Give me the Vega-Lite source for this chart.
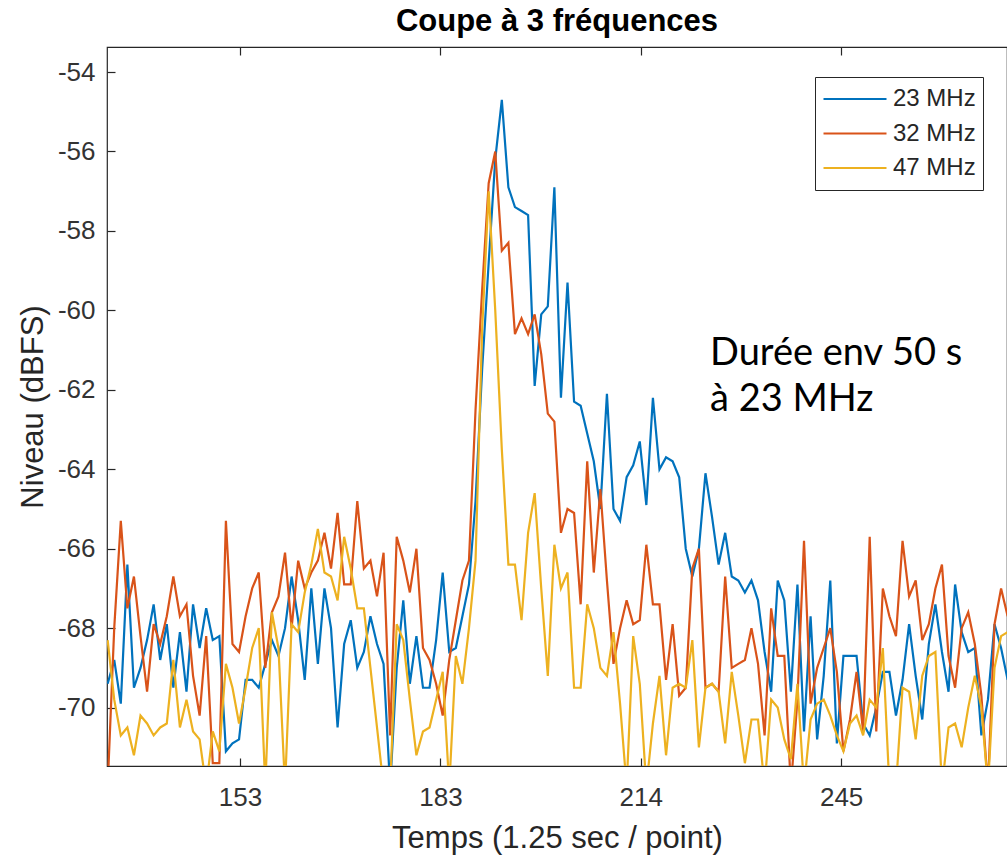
{
"$schema": "https://vega.github.io/schema/vega-lite/v6.json",
"width": 900, "height": 719,
"autosize": {"type": "none"},
"padding": {"left": 107, "top": 47, "right": 0, "bottom": 91},
"background": "white",
"title": {"text": "Coupe à 3 fréquences", "font": "Liberation Sans", "fontSize": 31, "fontWeight": "bold", "color": "#000000", "anchor": "middle", "offset": 8},
"config": {"view": {"stroke": "#262626", "strokeWidth": 1.2},
  "axis": {"grid": false, "domain": false, "labelFont": "Liberation Sans", "labelFontSize": 26, "labelColor": "#333333", "titleFont": "Liberation Sans", "titleFontSize": 31, "titleFontWeight": "normal", "titleColor": "#262626", "tickColor": "#262626", "tickSize": -8, "tickWidth": 1.2}},
"resolve": {"axis": {"x": "independent"}},
"layer": [
{
"data": {"values": [
{"t":133,"s":"23 MHz","v":-69.4},{"t":134,"s":"23 MHz","v":-68.8},{"t":135,"s":"23 MHz","v":-69.9},{"t":136,"s":"23 MHz","v":-66.4},{"t":137,"s":"23 MHz","v":-69.5},{"t":138,"s":"23 MHz","v":-69.0},{"t":139,"s":"23 MHz","v":-68.3},{"t":140,"s":"23 MHz","v":-67.4},{"t":141,"s":"23 MHz","v":-68.8},{"t":142,"s":"23 MHz","v":-67.9},
{"t":143,"s":"23 MHz","v":-69.5},{"t":144,"s":"23 MHz","v":-68.1},{"t":145,"s":"23 MHz","v":-69.6},{"t":146,"s":"23 MHz","v":-67.4},{"t":147,"s":"23 MHz","v":-68.5},{"t":148,"s":"23 MHz","v":-67.5},{"t":149,"s":"23 MHz","v":-68.3},{"t":150,"s":"23 MHz","v":-68.2},{"t":151,"s":"23 MHz","v":-71.1},{"t":152,"s":"23 MHz","v":-70.9},
{"t":153,"s":"23 MHz","v":-70.8},{"t":154,"s":"23 MHz","v":-69.3},{"t":155,"s":"23 MHz","v":-69.3},{"t":156,"s":"23 MHz","v":-69.5},{"t":157,"s":"23 MHz","v":-68.9},{"t":158,"s":"23 MHz","v":-68.3},{"t":159,"s":"23 MHz","v":-68.7},{"t":160,"s":"23 MHz","v":-68.0},{"t":161,"s":"23 MHz","v":-66.7},{"t":162,"s":"23 MHz","v":-67.8},
{"t":163,"s":"23 MHz","v":-69.3},{"t":164,"s":"23 MHz","v":-67.0},{"t":165,"s":"23 MHz","v":-68.9},{"t":166,"s":"23 MHz","v":-67.0},{"t":167,"s":"23 MHz","v":-68.0},{"t":168,"s":"23 MHz","v":-70.5},{"t":169,"s":"23 MHz","v":-68.4},{"t":170,"s":"23 MHz","v":-67.8},{"t":171,"s":"23 MHz","v":-69.0},{"t":172,"s":"23 MHz","v":-68.6},
{"t":173,"s":"23 MHz","v":-67.7},{"t":174,"s":"23 MHz","v":-68.4},{"t":175,"s":"23 MHz","v":-68.9},{"t":176,"s":"23 MHz","v":-72.0},{"t":177,"s":"23 MHz","v":-69.0},{"t":178,"s":"23 MHz","v":-67.3},{"t":179,"s":"23 MHz","v":-69.4},{"t":180,"s":"23 MHz","v":-68.2},{"t":181,"s":"23 MHz","v":-69.5},{"t":182,"s":"23 MHz","v":-69.5},
{"t":183,"s":"23 MHz","v":-68.3},{"t":184,"s":"23 MHz","v":-66.6},{"t":185,"s":"23 MHz","v":-68.6},{"t":186,"s":"23 MHz","v":-68.5},{"t":187,"s":"23 MHz","v":-67.7},{"t":188,"s":"23 MHz","v":-66.9},{"t":189,"s":"23 MHz","v":-64.8},{"t":190,"s":"23 MHz","v":-61.5},{"t":191,"s":"23 MHz","v":-58.8},{"t":192,"s":"23 MHz","v":-56.2},
{"t":193,"s":"23 MHz","v":-54.7},{"t":194,"s":"23 MHz","v":-56.9},{"t":195,"s":"23 MHz","v":-57.4},{"t":196,"s":"23 MHz","v":-57.5},{"t":197,"s":"23 MHz","v":-57.6},{"t":198,"s":"23 MHz","v":-61.9},{"t":199,"s":"23 MHz","v":-60.1},{"t":200,"s":"23 MHz","v":-59.9},{"t":201,"s":"23 MHz","v":-56.9},{"t":202,"s":"23 MHz","v":-62.2},
{"t":203,"s":"23 MHz","v":-59.3},{"t":204,"s":"23 MHz","v":-62.3},{"t":205,"s":"23 MHz","v":-62.4},{"t":206,"s":"23 MHz","v":-63.1},{"t":207,"s":"23 MHz","v":-63.8},{"t":208,"s":"23 MHz","v":-65.0},{"t":209,"s":"23 MHz","v":-62.1},{"t":210,"s":"23 MHz","v":-65.0},{"t":211,"s":"23 MHz","v":-65.3},{"t":212,"s":"23 MHz","v":-64.2},
{"t":213,"s":"23 MHz","v":-63.9},{"t":214,"s":"23 MHz","v":-63.3},{"t":215,"s":"23 MHz","v":-64.9},{"t":216,"s":"23 MHz","v":-62.2},{"t":217,"s":"23 MHz","v":-64.0},{"t":218,"s":"23 MHz","v":-63.7},{"t":219,"s":"23 MHz","v":-63.8},{"t":220,"s":"23 MHz","v":-64.2},{"t":221,"s":"23 MHz","v":-66.0},{"t":222,"s":"23 MHz","v":-66.7},
{"t":223,"s":"23 MHz","v":-66.0},{"t":224,"s":"23 MHz","v":-64.1},{"t":225,"s":"23 MHz","v":-65.2},{"t":226,"s":"23 MHz","v":-66.4},{"t":227,"s":"23 MHz","v":-65.6},{"t":228,"s":"23 MHz","v":-66.7},{"t":229,"s":"23 MHz","v":-66.8},{"t":230,"s":"23 MHz","v":-67.1},{"t":231,"s":"23 MHz","v":-66.8},{"t":232,"s":"23 MHz","v":-67.3},
{"t":233,"s":"23 MHz","v":-68.6},{"t":234,"s":"23 MHz","v":-69.6},{"t":235,"s":"23 MHz","v":-66.8},{"t":236,"s":"23 MHz","v":-67.3},{"t":237,"s":"23 MHz","v":-69.6},{"t":238,"s":"23 MHz","v":-66.9},{"t":239,"s":"23 MHz","v":-70.6},{"t":240,"s":"23 MHz","v":-67.7},{"t":241,"s":"23 MHz","v":-70.8},{"t":242,"s":"23 MHz","v":-69.2},
{"t":243,"s":"23 MHz","v":-66.8},{"t":244,"s":"23 MHz","v":-70.9},{"t":245,"s":"23 MHz","v":-68.7},{"t":246,"s":"23 MHz","v":-68.7},{"t":247,"s":"23 MHz","v":-68.7},{"t":248,"s":"23 MHz","v":-70.4},{"t":249,"s":"23 MHz","v":-70.7},{"t":250,"s":"23 MHz","v":-70.0},{"t":251,"s":"23 MHz","v":-69.1},{"t":252,"s":"23 MHz","v":-69.1},
{"t":253,"s":"23 MHz","v":-70.2},{"t":254,"s":"23 MHz","v":-69.3},{"t":255,"s":"23 MHz","v":-67.9},{"t":256,"s":"23 MHz","v":-69.2},{"t":257,"s":"23 MHz","v":-70.3},{"t":258,"s":"23 MHz","v":-68.4},{"t":259,"s":"23 MHz","v":-67.4},{"t":260,"s":"23 MHz","v":-68.6},{"t":261,"s":"23 MHz","v":-69.6},{"t":262,"s":"23 MHz","v":-66.9},
{"t":263,"s":"23 MHz","v":-68.1},{"t":264,"s":"23 MHz","v":-68.6},{"t":265,"s":"23 MHz","v":-68.5},{"t":266,"s":"23 MHz","v":-70.7},{"t":267,"s":"23 MHz","v":-69.8},{"t":268,"s":"23 MHz","v":-67.9},{"t":269,"s":"23 MHz","v":-68.5},{"t":270,"s":"23 MHz","v":-69.3},
{"t":133,"s":"32 MHz","v":-72.0},{"t":134,"s":"32 MHz","v":-68.0},{"t":135,"s":"32 MHz","v":-65.3},{"t":136,"s":"32 MHz","v":-67.5},{"t":137,"s":"32 MHz","v":-66.7},{"t":138,"s":"32 MHz","v":-68.2},{"t":139,"s":"32 MHz","v":-69.6},{"t":140,"s":"32 MHz","v":-67.9},{"t":141,"s":"32 MHz","v":-68.4},{"t":142,"s":"32 MHz","v":-67.7},
{"t":143,"s":"32 MHz","v":-66.7},{"t":144,"s":"32 MHz","v":-67.7},{"t":145,"s":"32 MHz","v":-67.4},{"t":146,"s":"32 MHz","v":-69.2},{"t":147,"s":"32 MHz","v":-70.2},{"t":148,"s":"32 MHz","v":-68.2},{"t":149,"s":"32 MHz","v":-71.4},{"t":150,"s":"32 MHz","v":-71.4},{"t":151,"s":"32 MHz","v":-65.3},{"t":152,"s":"32 MHz","v":-68.4},
{"t":153,"s":"32 MHz","v":-68.6},{"t":154,"s":"32 MHz","v":-67.7},{"t":155,"s":"32 MHz","v":-67.0},{"t":156,"s":"32 MHz","v":-66.6},{"t":157,"s":"32 MHz","v":-69.0},{"t":158,"s":"32 MHz","v":-67.6},{"t":159,"s":"32 MHz","v":-67.2},{"t":160,"s":"32 MHz","v":-66.1},{"t":161,"s":"32 MHz","v":-68.0},{"t":162,"s":"32 MHz","v":-66.3},
{"t":163,"s":"32 MHz","v":-67.0},{"t":164,"s":"32 MHz","v":-66.6},{"t":165,"s":"32 MHz","v":-66.3},{"t":166,"s":"32 MHz","v":-65.6},{"t":167,"s":"32 MHz","v":-66.5},{"t":168,"s":"32 MHz","v":-65.1},{"t":169,"s":"32 MHz","v":-66.9},{"t":170,"s":"32 MHz","v":-66.9},{"t":171,"s":"32 MHz","v":-64.8},{"t":172,"s":"32 MHz","v":-66.5},
{"t":173,"s":"32 MHz","v":-66.3},{"t":174,"s":"32 MHz","v":-67.2},{"t":175,"s":"32 MHz","v":-66.1},{"t":176,"s":"32 MHz","v":-70.7},{"t":177,"s":"32 MHz","v":-65.7},{"t":178,"s":"32 MHz","v":-66.3},{"t":179,"s":"32 MHz","v":-67.1},{"t":180,"s":"32 MHz","v":-66.0},{"t":181,"s":"32 MHz","v":-68.5},{"t":182,"s":"32 MHz","v":-68.8},
{"t":183,"s":"32 MHz","v":-69.4},{"t":184,"s":"32 MHz","v":-70.2},{"t":185,"s":"32 MHz","v":-68.8},{"t":186,"s":"32 MHz","v":-67.8},{"t":187,"s":"32 MHz","v":-66.8},{"t":188,"s":"32 MHz","v":-66.3},{"t":189,"s":"32 MHz","v":-62.5},{"t":190,"s":"32 MHz","v":-59.5},{"t":191,"s":"32 MHz","v":-56.8},{"t":192,"s":"32 MHz","v":-56.0},
{"t":193,"s":"32 MHz","v":-58.5},{"t":194,"s":"32 MHz","v":-58.3},{"t":195,"s":"32 MHz","v":-60.6},{"t":196,"s":"32 MHz","v":-60.2},{"t":197,"s":"32 MHz","v":-60.6},{"t":198,"s":"32 MHz","v":-60.1},{"t":199,"s":"32 MHz","v":-61.1},{"t":200,"s":"32 MHz","v":-62.6},{"t":201,"s":"32 MHz","v":-62.8},{"t":202,"s":"32 MHz","v":-65.6},
{"t":203,"s":"32 MHz","v":-65.0},{"t":204,"s":"32 MHz","v":-65.1},{"t":205,"s":"32 MHz","v":-67.4},{"t":206,"s":"32 MHz","v":-63.8},{"t":207,"s":"32 MHz","v":-66.6},{"t":208,"s":"32 MHz","v":-64.5},{"t":209,"s":"32 MHz","v":-66.8},{"t":210,"s":"32 MHz","v":-68.9},{"t":211,"s":"32 MHz","v":-68.0},{"t":212,"s":"32 MHz","v":-67.3},
{"t":213,"s":"32 MHz","v":-67.9},{"t":214,"s":"32 MHz","v":-67.8},{"t":215,"s":"32 MHz","v":-65.9},{"t":216,"s":"32 MHz","v":-67.4},{"t":217,"s":"32 MHz","v":-67.4},{"t":218,"s":"32 MHz","v":-69.3},{"t":219,"s":"32 MHz","v":-67.9},{"t":220,"s":"32 MHz","v":-69.7},{"t":221,"s":"32 MHz","v":-69.5},{"t":222,"s":"32 MHz","v":-66.5},
{"t":223,"s":"32 MHz","v":-66.0},{"t":224,"s":"32 MHz","v":-69.5},{"t":225,"s":"32 MHz","v":-69.4},{"t":226,"s":"32 MHz","v":-69.6},{"t":227,"s":"32 MHz","v":-66.7},{"t":228,"s":"32 MHz","v":-69.0},{"t":229,"s":"32 MHz","v":-68.9},{"t":230,"s":"32 MHz","v":-68.8},{"t":231,"s":"32 MHz","v":-68.0},{"t":232,"s":"32 MHz","v":-68.9},
{"t":233,"s":"32 MHz","v":-70.7},{"t":234,"s":"32 MHz","v":-67.5},{"t":235,"s":"32 MHz","v":-68.7},{"t":236,"s":"32 MHz","v":-68.7},{"t":237,"s":"32 MHz","v":-72.0},{"t":238,"s":"32 MHz","v":-69.8},{"t":239,"s":"32 MHz","v":-65.8},{"t":240,"s":"32 MHz","v":-69.9},{"t":241,"s":"32 MHz","v":-69.0},{"t":242,"s":"32 MHz","v":-68.5},
{"t":243,"s":"32 MHz","v":-68.0},{"t":244,"s":"32 MHz","v":-69.1},{"t":245,"s":"32 MHz","v":-71.1},{"t":246,"s":"32 MHz","v":-70.3},{"t":247,"s":"32 MHz","v":-69.1},{"t":248,"s":"32 MHz","v":-70.6},{"t":249,"s":"32 MHz","v":-65.7},{"t":250,"s":"32 MHz","v":-70.6},{"t":251,"s":"32 MHz","v":-67.0},{"t":252,"s":"32 MHz","v":-67.7},
{"t":253,"s":"32 MHz","v":-68.2},{"t":254,"s":"32 MHz","v":-65.8},{"t":255,"s":"32 MHz","v":-67.2},{"t":256,"s":"32 MHz","v":-66.8},{"t":257,"s":"32 MHz","v":-68.3},{"t":258,"s":"32 MHz","v":-67.9},{"t":259,"s":"32 MHz","v":-67.0},{"t":260,"s":"32 MHz","v":-66.4},{"t":261,"s":"32 MHz","v":-68.7},{"t":262,"s":"32 MHz","v":-69.5},
{"t":263,"s":"32 MHz","v":-68.0},{"t":264,"s":"32 MHz","v":-67.6},{"t":265,"s":"32 MHz","v":-68.4},{"t":266,"s":"32 MHz","v":-69.7},{"t":267,"s":"32 MHz","v":-72.0},{"t":268,"s":"32 MHz","v":-67.9},{"t":269,"s":"32 MHz","v":-67.0},{"t":270,"s":"32 MHz","v":-67.7},
{"t":133,"s":"47 MHz","v":-68.3},{"t":134,"s":"47 MHz","v":-69.8},{"t":135,"s":"47 MHz","v":-70.7},{"t":136,"s":"47 MHz","v":-70.5},{"t":137,"s":"47 MHz","v":-71.2},{"t":138,"s":"47 MHz","v":-70.2},{"t":139,"s":"47 MHz","v":-70.4},{"t":140,"s":"47 MHz","v":-70.7},{"t":141,"s":"47 MHz","v":-70.5},{"t":142,"s":"47 MHz","v":-70.4},
{"t":143,"s":"47 MHz","v":-68.8},{"t":144,"s":"47 MHz","v":-70.5},{"t":145,"s":"47 MHz","v":-69.8},{"t":146,"s":"47 MHz","v":-70.6},{"t":147,"s":"47 MHz","v":-70.8},{"t":148,"s":"47 MHz","v":-72.0},{"t":149,"s":"47 MHz","v":-70.6},{"t":150,"s":"47 MHz","v":-71.1},{"t":151,"s":"47 MHz","v":-68.9},{"t":152,"s":"47 MHz","v":-69.5},
{"t":153,"s":"47 MHz","v":-70.4},{"t":154,"s":"47 MHz","v":-69.5},{"t":155,"s":"47 MHz","v":-68.5},{"t":156,"s":"47 MHz","v":-68.0},{"t":157,"s":"47 MHz","v":-72.0},{"t":158,"s":"47 MHz","v":-67.6},{"t":159,"s":"47 MHz","v":-68.5},{"t":160,"s":"47 MHz","v":-72.0},{"t":161,"s":"47 MHz","v":-67.9},{"t":162,"s":"47 MHz","v":-68.1},
{"t":163,"s":"47 MHz","v":-67.1},{"t":164,"s":"47 MHz","v":-66.4},{"t":165,"s":"47 MHz","v":-65.5},{"t":166,"s":"47 MHz","v":-66.6},{"t":167,"s":"47 MHz","v":-66.7},{"t":168,"s":"47 MHz","v":-67.3},{"t":169,"s":"47 MHz","v":-65.7},{"t":170,"s":"47 MHz","v":-66.5},{"t":171,"s":"47 MHz","v":-67.5},{"t":172,"s":"47 MHz","v":-67.5},
{"t":173,"s":"47 MHz","v":-69.0},{"t":174,"s":"47 MHz","v":-70.5},{"t":175,"s":"47 MHz","v":-72.0},{"t":176,"s":"47 MHz","v":-72.0},{"t":177,"s":"47 MHz","v":-67.9},{"t":178,"s":"47 MHz","v":-68.3},{"t":179,"s":"47 MHz","v":-69.8},{"t":180,"s":"47 MHz","v":-71.2},{"t":181,"s":"47 MHz","v":-70.6},{"t":182,"s":"47 MHz","v":-70.5},
{"t":183,"s":"47 MHz","v":-69.8},{"t":184,"s":"47 MHz","v":-69.1},{"t":185,"s":"47 MHz","v":-72.0},{"t":186,"s":"47 MHz","v":-68.7},{"t":187,"s":"47 MHz","v":-69.4},{"t":188,"s":"47 MHz","v":-68.0},{"t":189,"s":"47 MHz","v":-66.3},{"t":190,"s":"47 MHz","v":-60.5},{"t":191,"s":"47 MHz","v":-57.0},{"t":192,"s":"47 MHz","v":-60.0},
{"t":193,"s":"47 MHz","v":-63.5},{"t":194,"s":"47 MHz","v":-66.4},{"t":195,"s":"47 MHz","v":-66.4},{"t":196,"s":"47 MHz","v":-67.8},{"t":197,"s":"47 MHz","v":-65.6},{"t":198,"s":"47 MHz","v":-64.6},{"t":199,"s":"47 MHz","v":-67.0},{"t":200,"s":"47 MHz","v":-69.2},{"t":201,"s":"47 MHz","v":-65.9},{"t":202,"s":"47 MHz","v":-67.0},
{"t":203,"s":"47 MHz","v":-66.6},{"t":204,"s":"47 MHz","v":-69.5},{"t":205,"s":"47 MHz","v":-69.5},{"t":206,"s":"47 MHz","v":-67.4},{"t":207,"s":"47 MHz","v":-68.0},{"t":208,"s":"47 MHz","v":-69.0},{"t":209,"s":"47 MHz","v":-69.2},{"t":210,"s":"47 MHz","v":-68.1},{"t":211,"s":"47 MHz","v":-69.9},{"t":212,"s":"47 MHz","v":-72.0},
{"t":213,"s":"47 MHz","v":-68.2},{"t":214,"s":"47 MHz","v":-69.4},{"t":215,"s":"47 MHz","v":-72.0},{"t":216,"s":"47 MHz","v":-70.4},{"t":217,"s":"47 MHz","v":-69.2},{"t":218,"s":"47 MHz","v":-71.2},{"t":219,"s":"47 MHz","v":-69.5},{"t":220,"s":"47 MHz","v":-69.4},{"t":221,"s":"47 MHz","v":-69.5},{"t":222,"s":"47 MHz","v":-68.3},
{"t":223,"s":"47 MHz","v":-71.0},{"t":224,"s":"47 MHz","v":-69.5},{"t":225,"s":"47 MHz","v":-69.4},{"t":226,"s":"47 MHz","v":-69.6},{"t":227,"s":"47 MHz","v":-70.9},{"t":228,"s":"47 MHz","v":-69.1},{"t":229,"s":"47 MHz","v":-70.2},{"t":230,"s":"47 MHz","v":-71.4},{"t":231,"s":"47 MHz","v":-70.3},{"t":232,"s":"47 MHz","v":-70.3},
{"t":233,"s":"47 MHz","v":-72.0},{"t":234,"s":"47 MHz","v":-69.8},{"t":235,"s":"47 MHz","v":-70.0},{"t":236,"s":"47 MHz","v":-70.8},{"t":237,"s":"47 MHz","v":-71.3},{"t":238,"s":"47 MHz","v":-69.4},{"t":239,"s":"47 MHz","v":-72.0},{"t":240,"s":"47 MHz","v":-70.3},{"t":241,"s":"47 MHz","v":-69.9},{"t":242,"s":"47 MHz","v":-69.8},
{"t":243,"s":"47 MHz","v":-70.2},{"t":244,"s":"47 MHz","v":-70.7},{"t":245,"s":"47 MHz","v":-71.1},{"t":246,"s":"47 MHz","v":-70.4},{"t":247,"s":"47 MHz","v":-70.2},{"t":248,"s":"47 MHz","v":-70.7},{"t":249,"s":"47 MHz","v":-69.8},{"t":250,"s":"47 MHz","v":-70.0},{"t":251,"s":"47 MHz","v":-68.5},{"t":252,"s":"47 MHz","v":-72.0},
{"t":253,"s":"47 MHz","v":-72.0},{"t":254,"s":"47 MHz","v":-69.5},{"t":255,"s":"47 MHz","v":-69.6},{"t":256,"s":"47 MHz","v":-70.8},{"t":257,"s":"47 MHz","v":-69.2},{"t":258,"s":"47 MHz","v":-68.7},{"t":259,"s":"47 MHz","v":-68.6},{"t":260,"s":"47 MHz","v":-72.0},{"t":261,"s":"47 MHz","v":-70.5},{"t":262,"s":"47 MHz","v":-70.4},
{"t":263,"s":"47 MHz","v":-71.0},{"t":264,"s":"47 MHz","v":-70.0},{"t":265,"s":"47 MHz","v":-69.2},{"t":266,"s":"47 MHz","v":-70.0},{"t":267,"s":"47 MHz","v":-72.0},{"t":268,"s":"47 MHz","v":-69.0},{"t":269,"s":"47 MHz","v":-68.2},{"t":270,"s":"47 MHz","v":-68.1}
]},
"mark": {"type": "line", "clip": true, "strokeWidth": 2.2},
"encoding": {
  "x": {"field": "t", "type": "quantitative", "scale": {"domain": [132.9, 269.9], "nice": false, "zero": false},
        "axis": {"orient": "bottom", "values": [153.15, 183.65, 214.15, 244.65], "labelExpr": "datum.value < 160 ? '153' : datum.value < 190 ? '183' : datum.value < 220 ? '214' : '245'", "labelPadding": 26, "title": "Temps (1.25 sec / point)", "titlePadding": 13}},
  "y": {"field": "v", "type": "quantitative", "scale": {"domain": [-71.47, -53.37], "nice": false, "zero": false},
        "axis": {"values": [-70, -68, -66, -64, -62, -60, -58, -56, -54], "labelExpr": "'-' + abs(datum.value)", "labelPadding": 20, "title": "Niveau (dBFS)", "titlePadding": 8}},
  "color": {"field": "s", "type": "nominal",
    "scale": {"domain": ["23 MHz", "32 MHz", "47 MHz"], "range": ["#0072BD", "#D95319", "#EDB120"]},
    "legend": {"title": null, "orient": "none", "legendX": 708, "legendY": 30, "symbolType": "stroke", "symbolSize": 3969, "symbolStrokeWidth": 2.2, "clipHeight": 30, "rowPadding": 4.5, "padding": 7, "labelOffset": 5, "labelFont": "Liberation Sans", "labelFontSize": 24, "labelColor": "#262626", "strokeColor": "#262626", "fillColor": "white"}}
}
},
{
"data": {"values": [{"t": 224.7, "v": -61.38, "txt": "Durée env 50 s\nà 23 MHz"}]},
"mark": {"type": "text", "align": "left", "baseline": "alphabetic", "font": "Lato", "fontSize": 38, "color": "#000000", "lineBreak": "\n", "lineHeight": 46},
"encoding": {
  "x": {"field": "t", "type": "quantitative", "axis": {"orient": "top", "values": [153.15, 183.65, 214.15, 244.65], "labels": false, "title": null}},
  "y": {"field": "v", "type": "quantitative"},
  "text": {"field": "txt"}
}
}
]
}
